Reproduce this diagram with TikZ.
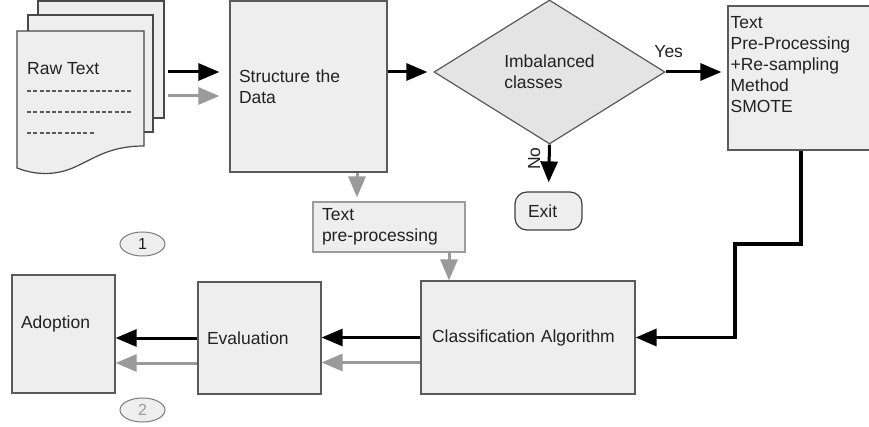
\documentclass[tikz,border=0pt]{standalone}
\usepackage{fontspec}
\setmainfont{Liberation Sans}
\usetikzlibrary{arrows.meta,positioning,shapes.geometric}
\definecolor{ink}{HTML}{222222}
\definecolor{edge}{HTML}{5A5A5A}
\definecolor{soft}{HTML}{EEEEEE}
\definecolor{shade}{HTML}{E4E4E4}
\definecolor{ash}{HTML}{9A9A9A}

\begin{document}
\begin{tikzpicture}[x=1pt, y=-1pt, every node/.style={font=\fontsize{17.5}{21}\selectfont,text=ink,align=left}, box/.style={draw=edge,line width=1.2pt,fill=soft,inner ysep=0pt}, page/.style={draw=edge!80!black,line width=1.2pt,fill=soft}, arr/.style={-{Triangle[length=21pt,width=17pt]},line width=3pt,draw=black}, garr/.style={arr,draw=ash}, oval/.style={ellipse,draw=ash!80!black,line width=1pt,fill=soft,minimum width=45pt,minimum height=24pt,inner sep=0pt,font=\fontsize{16}{18}\selectfont}]
\useasboundingbox (0,0) rectangle (869,427);
\node[page,minimum width=126,minimum height=117] (pg3) at (101,59.5) {};
\node[page,minimum width=125,minimum height=117] (pg2) at (90.5,73.5) {};
\draw[page] (17,31) -- (144,31) -- (144,146) .. controls (110,146) and (95,158) .. (75,167) .. controls (55,176) and (35,175) .. (17,168) -- cycle;
\node[anchor=west,inner sep=0] (raw) at (27,69) {Raw Text};
\draw[edge,line width=1.3pt,dash pattern=on 4pt off 2.25pt] (27,91) -- (131,91) (27,112) -- (131,112) (27,133) -- (93.5,133);
\node[box,minimum width=157,minimum height=171,text width=139,inner xsep=9] (struct) at (308.5,86.5) {Structure the\\Data};
\node[diamond,draw=edge,line width=1.2pt,fill=shade,minimum width=231,minimum height=144,inner sep=0] (dia) at (549.5,72) {Imbalanced\\classes};
\node[box,minimum width=142,minimum height=144] (smote) at (799,78) {};
\node[anchor=north west,inner sep=0] (smotetext) at ([xshift=3pt,yshift=-11pt]smote.north west) {Text\\Pre-Processing\\+Re-sampling\\Method\\SMOTE};
\node[box,rounded corners=12pt,draw=edge!70!black,minimum width=67,minimum height=38,text width=41,inner xsep=13] (exit) at (548.5,211) {Exit};
\node[box,draw=edge!60,minimum width=152,minimum height=50,text width=134,inner xsep=9] (tpre) at (389,227) {Text\\pre-processing};
\node[box,minimum width=214,minimum height=113,text width=192,inner xsep=11] (class) at (528,337.5) {Classification Algorithm};
\node[box,minimum width=123,minimum height=112,text width=105,inner xsep=9] (eval) at (259.5,338) {Evaluation};
\node[box,minimum width=103,minimum height=118,text width=85,inner xsep=9,text depth=24pt] (adopt) at (63.5,334) {Adoption};
\node[oval] (one) at (142.5,244) {1};
\node[oval,text=ash] (two) at (142.5,410) {2};
\coordinate (bend) at (735,244);
\draw[arr,shorten <=3pt,shorten >=10pt] (pg3.east |- 0,72) -- (struct.west |- 0,72);
\draw[garr,shorten <=3pt,shorten >=10pt] (pg3.east |- 0,96) -- (struct.west |- 0,96);
\draw[arr,shorten >=6pt] (struct.east |- dia.west) -- (dia.west);
\draw[arr,shorten >=6pt] (dia.east) -- node[pos=0.05,above=9pt] (yes) {Yes} (smote.west |- dia.east);
\draw[arr,shorten >=9pt] (dia.south) -- node[pos=0.3,xshift=-15pt,rotate=90] (no) {No} (exit.north);
\draw[garr,shorten >=4pt] ([xshift=48.5pt]struct.south) -- ([xshift=48.5pt]struct.south |- tpre.north);
\draw[garr] ([xshift=60pt]tpre.south) -- ([xshift=60pt]tpre.south |- class.north);
\draw[arr,line width=3.5pt] ([xshift=2pt]smote.south) |- (bend) |- (class.east);
\draw[arr] (class.west) -- (eval.east |- class.west); \draw[garr] ([yshift=-25pt]class.west) -- ([yshift=-25pt]class.west -| eval.east);
\draw[arr] (eval.west) -- (adopt.east |- eval.west); \draw[garr] ([yshift=-25pt]eval.west) -- ([yshift=-25pt]eval.west -| adopt.east);
\end{tikzpicture}
\end{document}
